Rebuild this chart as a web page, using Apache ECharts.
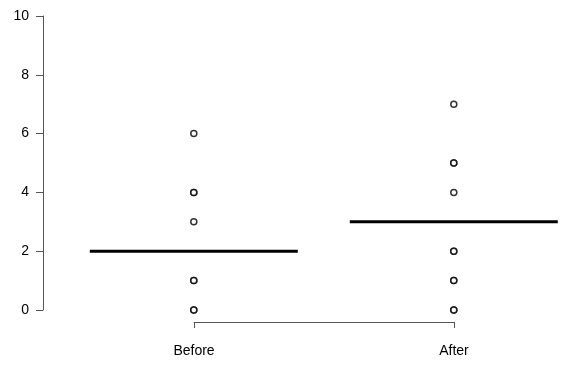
<!DOCTYPE html>
<html><head><meta charset="utf-8">
<script src="https://cdn.jsdelivr.net/npm/echarts@6/dist/echarts.min.js"></script>
<style>html,body{margin:0;padding:0;background:#fff}#c{width:565px;height:373px}</style>
</head><body><div id="c"></div>
<script>
const categories = ["Before", "After"];
const beforeValues = [0, 0, 1, 1, 3, 4, 4, 6];
const afterValues = [0, 0, 1, 1, 2, 2, 4, 5, 5, 7];
const centerLines = [2, 3];
const yTicks = [0, 2, 4, 6, 8, 10];

const groups = [beforeValues, afterValues];
const pts = [];
groups.forEach((g, i) => g.forEach(v => pts.push([i + 1, v])));
const lineSeries = centerLines.map((v, i) => ({
  type: 'line', xAxisIndex: 0, yAxisIndex: 0, symbol: 'none', silent: true,
  lineStyle: { color: '#000', width: 3 },
  data: [[i + 1 - 0.4, v], [i + 1 + 0.4, v]]
}));
const font = 'Liberation Sans, Arial, sans-serif';
const chart = echarts.init(document.getElementById('c'), null, { renderer: 'canvas' });
chart.setOption({
  animation: false,
  backgroundColor: '#fff',
  grid: [
    { left: 43, top: 16, width: 520, height: 294 },
    { left: 194, width: 260, top: 300, height: 22 }
  ],
  xAxis: [
    { gridIndex: 0, type: 'value', min: 0.42, max: 2.42, show: false },
    { gridIndex: 1, type: 'value', min: 1, max: 2, interval: 1,
      axisLine: { lineStyle: { color: '#555', width: 1 } },
      axisTick: { length: 6, lineStyle: { color: '#555' } },
      splitLine: { show: false },
      axisLabel: { margin: 22, color: '#000', fontFamily: font, fontSize: 14,
        formatter: v => categories[Math.round(v) - 1] || '' } }
  ],
  yAxis: [
    { gridIndex: 0, type: 'value', min: 0, max: 10, interval: 2,
      axisLine: { show: true, lineStyle: { color: '#555', width: 1 } },
      axisTick: { show: true, length: 7, lineStyle: { color: '#555' } },
      splitLine: { show: false },
      axisLabel: { margin: 14, color: '#000', fontFamily: font, fontSize: 14,
        formatter: v => yTicks.includes(v) ? String(v) : '' } },
    { gridIndex: 1, type: 'value', show: false }
  ],
  series: [
    ...lineSeries,
    { type: 'scatter', xAxisIndex: 0, yAxisIndex: 0, data: pts,
      symbol: 'circle', symbolSize: 6,
      itemStyle: { color: '#fff', borderColor: '#000', borderWidth: 1.5 } }
  ]
});
</script></body></html>
